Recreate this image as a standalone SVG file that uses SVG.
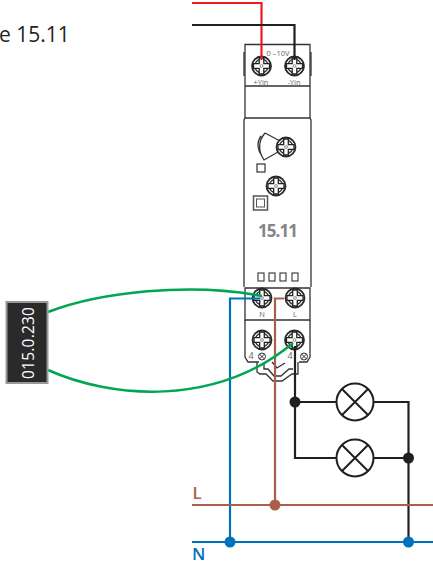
<svg xmlns="http://www.w3.org/2000/svg" width="433" height="564" viewBox="0 0 433 564">
<defs>
<style>
text{font-family:"Open Sans","Noto Sans",sans-serif}
.b{fill:none;stroke:#333;stroke-width:1.3}
.w{fill:none;stroke-width:2.2}
.sm{font-size:7.500px;fill:#666;text-anchor:middle}
.lamp{fill:#fff;stroke:#231f20;stroke-width:2}
</style>
<g id="screw">
<circle r="9.500" fill="#fff" stroke="#2a2a2a" stroke-width="1.800"/>
<circle r="6.800" fill="none" stroke="#333" stroke-width="1.300"/>
<path d="M-2.300-8V-2.300H-8V2.300H-2.300V8H2.300V2.300H8V-2.300H2.300V-8Z" fill="#fff" stroke="#222" stroke-width="1.300"/>
<circle r="1.400" fill="#fff" stroke="#444" stroke-width=".6"/>
</g>
<g id="lampsym">
<circle r="18.500" class="lamp"/>
<path d="M-13-13L13 13M13-13L-13 13" stroke="#231f20" stroke-width="2" fill="none"/>
</g>
</defs>
<rect width="433" height="564" fill="#fff"/>
<text x="-1" y="42" font-size="21" fill="#231f20">e 15.11</text>

<g id="device">
<path class="b" d="M245 44.500H310V86H245ZM245 44.500V52M245 86V118H310V86"/>
<path class="b" d="M244 52V76M311 52V76"/>
<path class="b" d="M245 118L244 120V287M310 118L311 120V287"/>
<path class="b" d="M245 288H310V320H245Z"/>
<path class="b" d="M245 320V357L248 362H259M310 320V357L307 362H299"/>
<path class="b" d="M257 362V372L260 374H266L273 381H282L292 374H298V362"/>
<path class="b" d="M264 362V369H268L274 376H281L289 369H293M272 362L277 368L285 363"/>
<text x="258" y="237" font-size="17" font-weight="700" fill="#858585" textLength="40">15.11</text>
<text x="278" y="56" class="sm" font-size="8">0 –10V</text>
<text x="261" y="84.500" class="sm">+Yin</text>
<text x="294" y="84.500" class="sm">-Yin</text>
<text x="262" y="317" class="sm" font-size="8">N</text>
<text x="295" y="317" class="sm" font-size="8">L</text>
<text x="251" y="359" font-size="9" fill="#666" text-anchor="middle">4</text>
<text x="290" y="359" font-size="9" fill="#666" text-anchor="middle">4</text>
<path class="b" d="M265 133C258 141 258 151 264 160L278 152M265 133L280 141M261 136C256 143 258 151 262 156"/>
<use href="#screw" x="286" y="147"/>
<use href="#screw" x="276" y="186"/>
<rect x="257" y="164" width="8" height="8" fill="#fff" stroke="#333" stroke-width="1.200"/>
<rect x="253.500" y="196" width="14" height="14" fill="#fff" stroke="#555" stroke-width="1.500"/>
<rect x="256.500" y="199" width="8" height="8" fill="#fff" stroke="#555" stroke-width="1"/>
<rect x="258" y="273" width="6" height="8" fill="#fff" stroke="#333" stroke-width="1.100"/>
<rect x="269" y="273" width="6" height="8" fill="#fff" stroke="#333" stroke-width="1.100"/>
<rect x="280" y="273" width="6" height="8" fill="#fff" stroke="#333" stroke-width="1.100"/>
<rect x="292" y="273" width="6" height="8" fill="#fff" stroke="#333" stroke-width="1.100"/>
<use href="#screw" x="261.500" y="66"/>
<use href="#screw" x="294.500" y="66"/>
<use href="#screw" x="262" y="298"/>
<use href="#screw" x="295" y="298"/>
<use href="#screw" x="262" y="340"/>
<use href="#screw" x="294.500" y="340"/>
<g fill="#fff" stroke="#333" stroke-width="1">
<circle cx="262" cy="356.500" r="3.500"/><path d="M259.500 354L264.500 359M264.500 354L259.500 359"/>
<circle cx="304" cy="356.500" r="3.500"/><path d="M301.500 354L306.500 359M306.500 354L301.500 359"/>
</g>
</g>

<g id="connectors">
<path class="w" stroke="#ed1c24" d="M192 3H261.500V60"/>
<path class="w" stroke="#231f20" d="M192 25H294.500V60"/>
<path class="w" stroke="#0072bc" d="M260 298.500H230V542"/>
<path class="w" stroke="#a9604a" d="M284 298.500H275V505"/>
<path class="w" stroke="#231f20" d="M295 346V458H337M295 402H337M373 402H408.500V542M373 458H408.500"/>
<path class="w" stroke="#a9604a" d="M192 505H433"/>
<path class="w" stroke="#0072bc" d="M192 542H433"/>
<path d="M48 312C100 292 190 282 262 296" fill="none" stroke="#00a651" stroke-width="2.500"/>
<path d="M48 370C110 398 215 408 293 343" fill="none" stroke="#00a651" stroke-width="2.500"/>
<circle cx="295" cy="402" r="5.500" fill="#231f20"/>
<circle cx="408.500" cy="458" r="5.500" fill="#231f20"/>
<circle cx="275" cy="505" r="5.500" fill="#a9604a"/>
<circle cx="230" cy="542" r="5.500" fill="#0072bc"/>
<circle cx="408.500" cy="542" r="5.500" fill="#0072bc"/>
</g>

<g id="lamp1"><use href="#lampsym" x="355" y="402"/></g>
<g id="lamp2"><use href="#lampsym" x="355" y="458"/></g>

<g id="relay015">
<rect x="6.500" y="302" width="41" height="81" fill="#2b2a2a" stroke="#999" stroke-width="2"/>
<text transform="translate(34 379) rotate(-90)" font-size="15.500" fill="#fff" textLength="72">015.0.230</text>
</g>

<text id="labelL" x="192.500" y="499" font-size="17" font-weight="600" fill="#a9604a">L</text>
<text id="labelN" x="192" y="560" font-size="17" font-weight="600" fill="#0072bc">N</text>
</svg>
